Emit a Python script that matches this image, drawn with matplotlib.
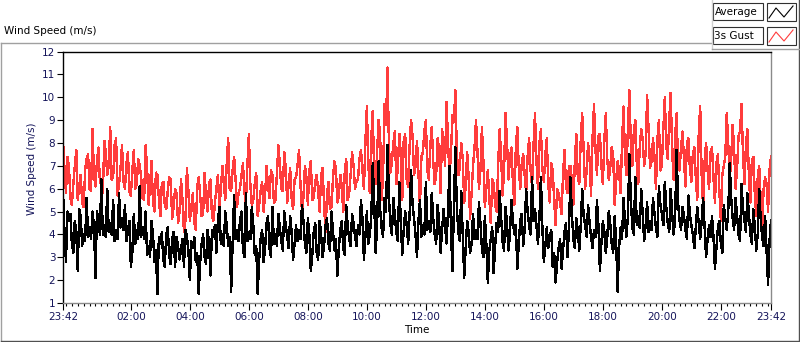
import numpy as np
import matplotlib
matplotlib.use('Agg')
import matplotlib.pyplot as plt
from matplotlib.lines import Line2D
from matplotlib.patches import Rectangle

# wind speed readings every 6 minutes from 23:42 to 23:42 next day
gust = [8.1, 5.8, 7.0, 5.3, 7.0, 5.5, 6.6, 5.2, 7.3, 6.0, 8.6, 6.1, 7.8, 6.2, 8.1, 6.6, 8.7, 6.5, 8.2, 6.2,
        7.9, 6.0, 7.6, 5.7, 7.7, 6.2, 7.0, 5.6, 7.9, 5.3, 7.2, 5.0, 6.6, 4.8, 6.3, 5.1, 6.5, 4.7, 6.0, 4.5,
        6.4, 4.1, 6.9, 4.6, 5.8, 4.2, 6.5, 4.8, 6.7, 5.0, 6.4, 4.6, 6.0, 5.2, 7.0, 5.5, 8.2, 5.9, 7.4, 5.2,
        6.0, 7.1, 5.4, 8.4, 5.3, 6.2, 4.8, 5.9, 5.0, 7.0, 5.6, 6.6, 5.5, 7.9, 6.0, 7.6, 5.4, 6.9, 5.1, 6.5,
        7.7, 5.0, 7.0, 5.3, 7.2, 5.6, 6.6, 5.0, 6.9, 4.1, 6.3, 5.2, 7.2, 5.4, 6.6, 5.0, 7.3, 5.8, 7.6, 6.0,
        6.4, 7.7, 6.0, 9.6, 5.8, 9.4, 6.2, 9.0, 5.5, 9.7, 11.3, 6.7, 8.0, 6.2, 8.4, 5.5, 8.4, 6.1, 9.0, 6.6,
        8.1, 5.2, 7.6, 9.0, 6.4, 8.7, 6.2, 8.2, 5.8, 8.0, 9.8, 6.5, 9.2, 10.3, 6.6, 8.0, 5.4, 7.6, 4.7, 7.0,
        9.0, 6.0, 8.7, 5.2, 6.8, 4.5, 6.2, 5.0, 8.6, 5.7, 9.3, 6.4, 7.8, 5.3, 8.7, 6.0, 7.5, 5.8, 8.2, 6.1,
        9.3, 6.0, 8.6, 6.3, 8.2, 5.4, 6.8, 4.4, 5.8, 4.9, 7.7, 5.8, 7.0, 5.3, 8.4, 6.2, 9.3, 6.0, 8.0, 5.7,
        9.7, 6.6, 8.4, 6.2, 9.3, 6.4, 7.8, 5.3, 7.2, 5.8, 9.6, 6.6, 10.3, 7.0, 9.0, 6.2, 8.6, 7.0, 10.1, 6.9,
        8.2, 6.0, 9.0, 7.0, 10.0, 7.3, 10.2, 6.4, 9.3, 6.8, 8.5, 6.1, 8.2, 6.3, 7.8, 5.5, 9.6, 5.1, 8.0, 6.0,
        7.8, 5.4, 7.5, 4.6, 7.0, 9.3, 6.4, 8.8, 6.0, 8.3, 9.7, 6.2, 8.6, 5.4, 7.4, 4.8, 7.0, 4.3, 6.5, 5.0, 7.4]

# readings taken 3 minutes after each of the above
gust_mid = [6.9, 7.4, 5.6, 6.2, 7.7, 6.1, 5.4, 6.8, 7.5, 5.9, 6.6, 7.2, 6.3, 5.8, 7.6, 7.0, 6.4, 7.9, 5.7, 6.9,
            6.3, 7.1, 5.9, 6.8, 6.0, 7.3, 6.5, 5.5, 6.9, 6.1, 5.4, 6.7, 5.6, 6.2, 5.3, 5.9, 6.4, 5.2, 5.8, 5.0,
            5.5, 4.6, 5.9, 5.2, 4.5, 6.1, 5.7, 4.9, 5.6, 6.2, 4.8, 5.4, 6.6, 5.9, 6.3, 7.1, 6.0, 6.8, 6.4, 5.8,
            6.6, 5.8, 7.0, 6.2, 5.5, 6.7, 5.3, 6.3, 5.7, 6.1, 6.8, 5.4, 6.6, 7.1, 5.9, 6.9, 6.2, 5.6, 6.4, 7.0,
            6.2, 5.6, 6.5, 6.8, 5.5, 6.3, 5.9, 6.6, 5.3, 5.8, 5.1, 6.4, 6.9, 5.7, 6.1, 6.7, 5.5, 6.6, 7.0, 6.3,
            7.3, 6.8, 8.0, 7.1, 8.2, 6.5, 7.7, 8.4, 6.6, 8.8, 7.8, 7.2, 8.5, 6.9, 7.5, 8.1, 6.4, 7.9, 8.3, 7.0,
            6.7, 7.4, 8.5, 6.8, 7.9, 7.2, 6.6, 7.7, 8.6, 7.0, 8.1, 7.5, 8.9, 7.6, 6.9, 7.3, 6.1, 6.5, 5.8, 7.8,
            7.6, 6.8, 7.2, 6.0, 5.6, 6.4, 5.3, 7.0, 7.5, 6.7, 8.1, 7.3, 6.3, 7.8, 6.9, 7.1, 6.6, 7.4, 6.8, 7.9,
            7.2, 8.0, 6.9, 7.5, 6.2, 7.1, 5.5, 6.0, 5.4, 6.6, 6.1, 7.0, 6.4, 7.2, 6.5, 8.1, 7.6, 6.8, 7.3, 8.2,
            7.7, 8.3, 7.0, 8.1, 7.3, 6.9, 7.5, 6.3, 6.8, 8.0, 7.4, 8.7, 7.9, 8.5, 7.1, 7.8, 8.2, 7.5, 8.6, 7.2,
            7.4, 8.2, 6.8, 8.6, 7.9, 9.0, 7.6, 8.3, 7.0, 7.8, 7.3, 8.0, 6.9, 7.5, 6.5, 8.4, 6.6, 7.2, 6.8, 7.6,
            6.5, 7.1, 5.9, 6.6, 7.4, 8.0, 7.3, 7.7, 6.9, 8.5, 7.5, 7.9, 6.6, 7.2, 5.8, 6.5, 5.5, 6.0, 6.2, 6.8]

average = [5.9, 2.8, 4.6, 3.6, 4.6, 2.4, 4.8, 4.0, 5.6, 4.3, 5.0, 2.1, 4.6, 6.4, 4.4, 6.0, 4.5, 5.5, 4.2, 5.8,
           4.7, 5.3, 4.1, 2.6, 4.9, 4.2, 6.1, 4.3, 5.0, 3.5, 4.6, 2.8, 1.4, 3.6, 2.9, 4.0, 3.1, 3.8, 2.6, 3.5,
           3.3, 2.6, 3.9, 2.0, 3.4, 2.8, 1.4, 3.6, 3.0, 4.2, 2.2, 3.9, 3.2, 5.2, 4.0, 5.0, 3.5, 1.5, 5.7, 4.2,
           4.6, 3.3, 5.8, 4.1, 5.2, 3.1, 1.4, 3.8, 2.8, 4.5, 3.4, 5.2, 4.0, 4.9, 3.7, 5.0, 3.9, 4.8, 2.9, 4.4,
           4.2, 5.3, 3.6, 4.7, 2.4, 4.1, 3.2, 4.6, 3.0, 4.4, 3.6, 5.0, 3.3, 2.2, 4.2, 3.4, 5.3, 3.8, 4.9, 3.9,
           4.4, 5.5, 2.9, 5.0, 4.0, 7.1, 3.2, 7.2, 4.3, 5.6, 7.9, 4.4, 5.6, 4.1, 6.3, 3.1, 5.0, 3.6, 6.8, 4.7,
           3.0, 5.5, 4.4, 6.3, 4.6, 5.8, 4.0, 5.3, 3.2, 5.1, 3.6, 7.0, 2.4, 7.8, 4.1, 5.9, 2.1, 4.6, 3.2, 4.9,
           4.2, 5.4, 3.4, 4.8, 1.9, 3.8, 2.3, 4.5, 5.9, 3.7, 5.2, 3.3, 5.5, 4.0, 2.5, 4.6, 3.5, 6.0, 4.4, 6.5,
           5.1, 3.6, 6.5, 2.8, 4.3, 3.9, 2.6, 1.9, 3.4, 2.5, 4.1, 3.0, 6.5, 3.8, 4.7, 3.3, 6.0, 4.4, 5.3, 3.9,
           4.2, 5.5, 2.4, 4.6, 3.2, 5.0, 3.6, 4.8, 1.5, 4.3, 5.6, 3.9, 7.5, 4.3, 6.5, 4.8, 6.0, 3.7, 5.4, 4.6,
           5.6, 4.3, 6.1, 4.9, 6.3, 4.5, 6.0, 4.0, 7.7, 4.6, 5.2, 4.2, 5.7, 4.4, 3.4, 5.2, 3.8, 5.6, 3.0, 4.4,
           4.8, 2.5, 4.3, 3.6, 5.3, 4.2, 7.1, 4.7, 5.6, 4.0, 6.2, 4.6, 5.8, 4.0, 5.1, 3.3, 6.0, 3.9, 4.8, 1.8, 4.6]

average_mid = [4.1, 5.0, 4.9, 3.2, 4.1, 5.1, 3.5, 3.7, 3.9, 3.8, 4.4, 5.0, 4.0, 4.0, 3.9, 4.1, 4.0, 3.7, 3.8, 4.3,
               4.2, 3.7, 4.6, 3.2, 3.6, 3.8, 3.9, 3.8, 3.1, 3.0, 4.0, 3.3, 3.9, 4.1, 2.6, 4.3, 2.7, 4.1, 3.9, 2.9,
               3.8, 4.2, 3.3, 3.7, 3.9, 3.2, 2.8, 4.0, 2.7, 3.6, 4.2, 4.4, 4.6, 3.6, 3.5, 4.4, 3.9, 3.6, 3.8, 3.7,
               5.0, 3.0, 3.7, 3.8, 4.4, 3.5, 2.9, 4.2, 3.4, 4.8, 3.0, 3.6, 3.5, 4.3, 3.3, 4.4, 3.4, 4.1, 3.6, 3.7,
               3.8, 4.6, 3.2, 4.0, 3.1, 4.5, 2.9, 4.0, 3.5, 4.7, 3.3, 4.2, 3.8, 3.4, 4.6, 3.1, 4.4, 3.5, 4.5, 3.5,
               4.0, 4.7, 3.9, 3.6, 4.8, 5.4, 4.5, 5.1, 3.9, 5.0, 5.6, 4.0, 4.8, 3.7, 4.6, 4.2, 4.4, 4.9, 5.3, 4.0,
               4.6, 3.9, 4.0, 4.2, 4.1, 4.7, 3.6, 4.5, 4.2, 4.4, 5.0, 4.3, 5.1, 5.2, 3.7, 4.0, 3.4, 4.1, 3.6, 3.8,
               3.8, 4.5, 3.0, 3.6, 3.3, 4.3, 3.5, 4.1, 4.8, 3.3, 4.5, 4.0, 4.6, 4.4, 3.6, 4.9, 4.2, 5.0, 4.0, 4.6,
               4.4, 4.7, 4.3, 3.5, 3.4, 4.2, 3.2, 2.8, 3.8, 3.3, 4.5, 4.2, 4.9, 3.4, 4.2, 4.4, 4.8, 3.9, 4.5, 3.4,
               3.9, 4.4, 3.6, 4.1, 3.9, 4.5, 3.2, 3.7, 3.4, 3.8, 4.6, 4.8, 5.5, 4.0, 4.4, 4.3, 4.9, 4.4, 4.1, 4.2,
               4.9, 3.9, 5.3, 4.4, 5.2, 4.1, 4.9, 4.7, 5.4, 4.2, 4.8, 3.8, 4.9, 4.0, 4.3, 4.5, 4.6, 4.3, 3.8, 3.9,
               3.9, 3.4, 4.6, 3.2, 4.7, 5.0, 5.6, 4.2, 4.8, 3.7, 5.1, 4.1, 4.9, 3.6, 4.4, 4.0, 4.7, 3.5, 3.3, 3.7]

time_labels = ['23:42', '02:00', '04:00', '06:00', '08:00', '10:00', '12:00',
               '14:00', '16:00', '18:00', '20:00', '22:00', '23:42']
y_ticks = list(range(1, 13))

W, H = 800, 342
NAVY = '#14145a'
RED = '#ff3c3c'


def px(x, y):
    return x / W, 1 - y / H


def merge(main, mid):
    out = []
    for k in range(len(mid)):
        out += [main[k], mid[k]]
    out.append(main[-1])
    return out


gust_all = merge(gust, gust_mid)
avg_all = merge(average, average_mid)
# hours since the first sample
hours = np.linspace(0, 24, len(avg_all))

start = 23 * 60 + 42
label_pos = []
for k, lab in enumerate(time_labels):
    hh, mm = lab.split(':')
    m = (int(hh) * 60 + int(mm) - start) % 1440
    if k == len(time_labels) - 1:
        m = 1440
    label_pos.append(m / 60)

fig = plt.figure(figsize=(W / 100, H / 100), dpi=100)
fig.patch.set_facecolor('white')

l, b = px(63, 303)
r, t = px(771, 51.5)
ax = fig.add_axes([l, b, r - l, t - b])
ax.plot(hours, gust_all, color=RED, lw=1.0, antialiased=False)
ax.plot(hours, avg_all, color='black', lw=1.0, antialiased=False)
ax.set_xlim(0, 24)
ax.set_ylim(1, 12)

ax.set_yticks(y_ticks)
ax.set_xticks(label_pos)
ax.set_xticklabels(time_labels)
ax.set_xticks(np.arange(0.1, 24, 0.2), minor=True)
ax.tick_params(axis='both', which='major', direction='out', length=4, width=0.8,
               labelsize=7.5, labelcolor=NAVY, pad=1.5)
ax.tick_params(axis='x', which='minor', direction='out', length=2.5, width=0.8)
ax.tick_params(axis='x', which='major', length=5)

for side in ['top', 'left']:
    ax.spines[side].set_color('black')
for side in ['bottom', 'right']:
    ax.spines[side].set_color('#8a8a8a')
for sp in ax.spines.values():
    sp.set_linewidth(1.0)

ax.set_xlabel('Time', fontsize=7.5, labelpad=2)
fig.text(*px(32, 169), 'Wind Speed (m/s)', rotation=90, fontsize=7.5,
         color=NAVY, ha='center', va='center')
fig.text(*px(4, 31), 'Wind Speed (m/s)', fontsize=7.5, ha='left', va='center')


# panel frame
def fline(xs, ys, color, lw=1.0):
    pts = [px(x, y) for x, y in zip(xs, ys)]
    fig.add_artist(Line2D([p[0] for p in pts], [p[1] for p in pts],
                          color=color, lw=lw, transform=fig.transFigure))


fline([0.5, 712], [42.5, 42.5], '#a0a0a0')
fline([0.5, 0.5], [42.5, 340.5], '#a0a0a0')
fline([0.5, 798.5], [340.5, 340.5], '#505050')
fline([798.5, 798.5], [0, 340.5], '#505050')
fline([712, 712], [0, 49], '#d0d0d0')
fline([712, 798.5], [49, 49], '#a0a0a0')

# legend
for (ty, name, col) in [(3, 'Average', 'black'), (27, '3s Gust', RED)]:
    x0, y0 = px(713, ty + 17)
    x1, y1 = px(763, ty)
    fig.add_artist(Rectangle((x0, y0), x1 - x0, y1 - y0, transform=fig.transFigure,
                             fc='white', ec='#303030', lw=0.8))
    x0, y0 = px(767, ty + 18)
    x1, y1 = px(796, ty)
    fig.add_artist(Rectangle((x0, y0), x1 - x0, y1 - y0, transform=fig.transFigure,
                             fc='white', ec='#303030', lw=0.8))
    fig.text(*px(714.5, ty + 9), name, fontsize=7.5, ha='left', va='center')
    fline([769, 776, 784, 793], [ty + 15, ty + 5, ty + 14, ty + 3], col, lw=0.8)

fig.savefig('out.png', dpi=100)
